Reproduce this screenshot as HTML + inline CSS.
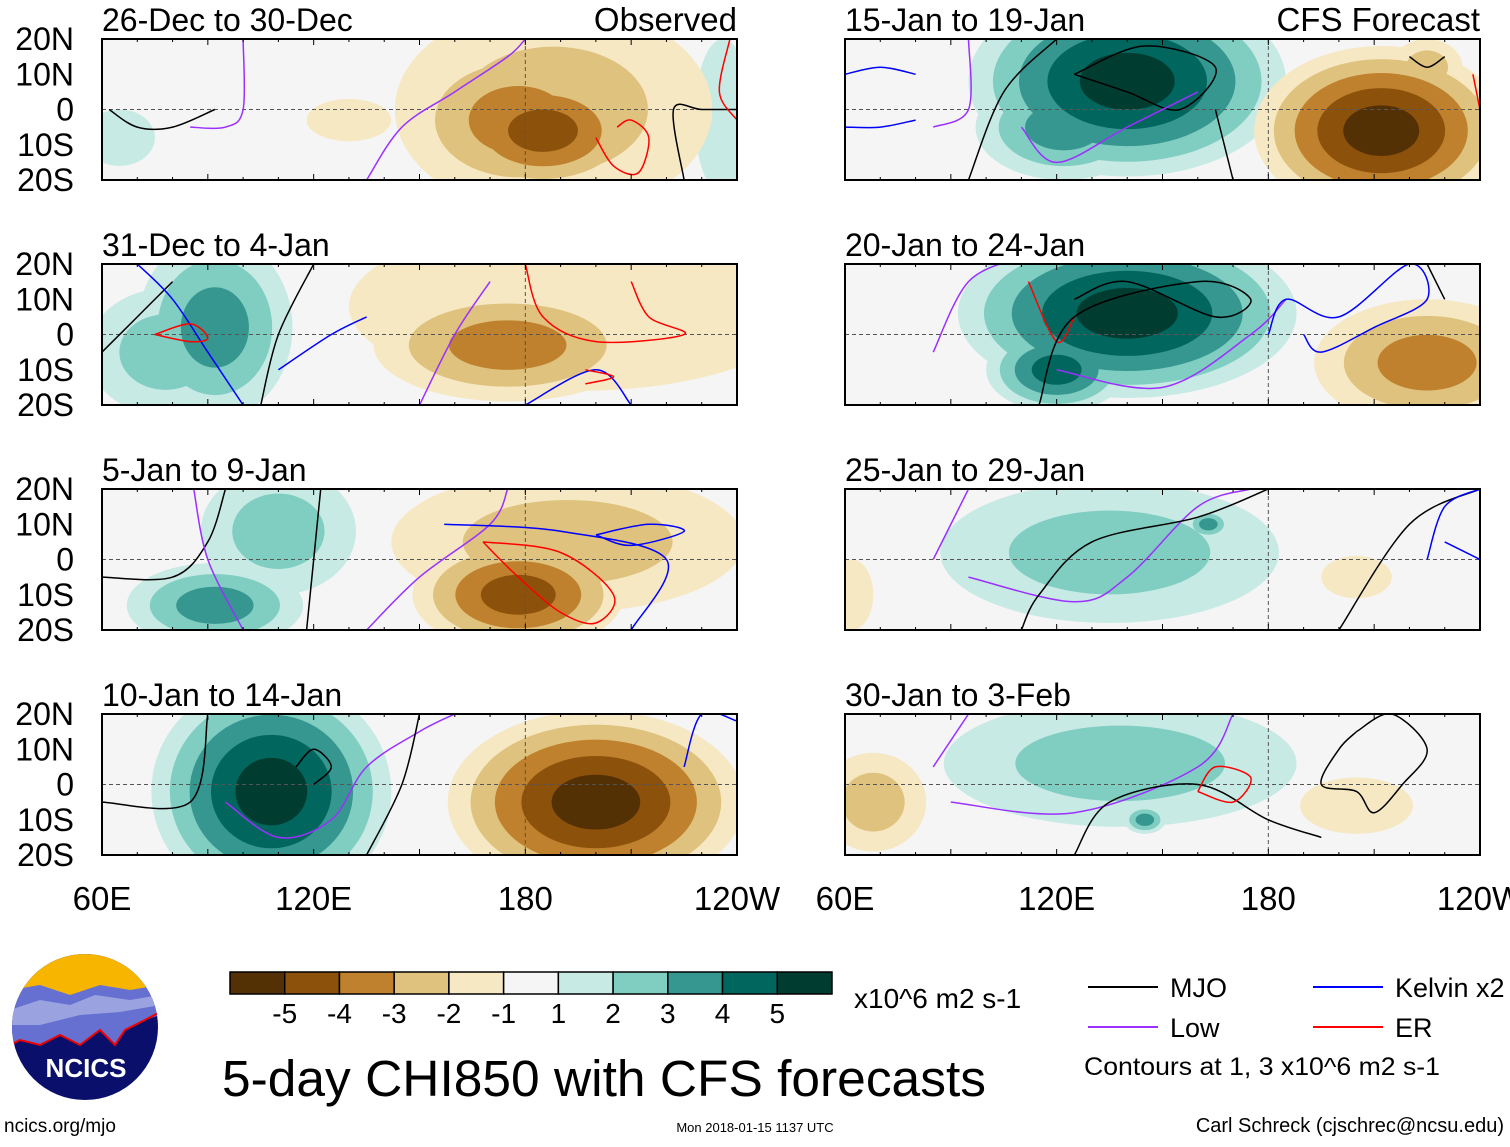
<!DOCTYPE html>
<html><head><meta charset="utf-8"><style>
html,body{margin:0;padding:0;background:#fff;}
body{width:1510px;height:1142px;overflow:hidden;font-family:"Liberation Sans",sans-serif;}
</style></head><body>
<svg id="chart" width="1510" height="1142" viewBox="0 0 1510 1142" xmlns="http://www.w3.org/2000/svg" font-family="Liberation Sans, sans-serif">
</svg>
<script>
// ---- data ----
const panelTitles = ["26-Dec to 30-Dec","31-Dec to 4-Jan","5-Jan to 9-Jan","10-Jan to 14-Jan","15-Jan to 19-Jan","20-Jan to 24-Jan","25-Jan to 29-Jan","30-Jan to 3-Feb"];
const latTicks = ["20N","10N","0","10S","20S"];
const lonTicks = ["60E","120E","180","120W"];
const lonTickValues = [60,120,180,240];
const levelLabels = ["-5","-4","-3","-2","-1","1","2","3","4","5"];
// anomaly blobs: [lonCenter, latCenter, peakValue, lonRadius, latRadius]
const blobs0 = [[65,-8,1,10,8],[236,-2,1,8,22],[130,-3,-1,12,6],[188,0,-2,45,30],[185,-6,-4,28,17],[178,-3,-3,32,22]];
const blobs1 = [[92,2,3,22,26],[78,-5,2,22,18],[175,-3,-3,38,16],[195,8,-1,65,24],[215,15,-1,15,8]];
const blobs2 = [[110,8,2,22,18],[92,-13,3,25,12],[178,-10,-4,30,16],[192,5,-2,50,20]];
const blobs3 = [[108,-2,5,34,32],[200,-5,-5,42,26]];
const blobs4 = [[140,8,5,45,27],[122,-5,3,25,15],[212,-6,-5,36,24],[225,12,-2,10,8]];
const blobs5 = [[140,6,5,48,24],[120,-10,4,20,12],[225,-8,-3,32,18]];
const blobs6 = [[135,2,2,48,20],[163,10,3,6,4],[62,-10,-1,6,10],[205,-5,-1,10,6]];
const blobs7 = [[138,6,2,50,18],[145,-10,3,6,4],[68,-5,-2,15,14],[205,-6,-1,16,8]];
const blobSets = [blobs0,blobs1,blobs2,blobs3,blobs4,blobs5,blobs6,blobs7];
// contour lines: [type, [lon,lat,...]]
const lines0 = [["mjo",[62,0,70,-5,80,-5,92,0]],["low",[85,-5,95,-5,100,0,100,20]],["low",[135,-20,145,-5,160,5,175,15,180,20]],["er",[206,-5,210,-3,215,-8,212,-18,205,-16,200,-8]],["mjo",[225,-20,222,0,230,0,240,0]],["er",[238,20,235,5,240,-3]]];
const lines1 = [["mjo",[60,-5,70,5,80,15]],["kelvin",[70,20,80,10,90,-5,100,-20]],["er",[75,0,85,-2,90,-1,85,3,75,0]],["mjo",[120,20,110,0,105,-20]],["kelvin",[135,5,125,0,110,-10]],["low",[150,-20,160,0,170,15]],["er",[180,20,185,5,200,-2,225,0,215,5,210,15]],["kelvin",[180,-20,200,-10,210,-20]],["er",[197,-10,205,-12,197,-14]]];
const lines2 = [["mjo",[60,-5,80,-5,90,5,95,20]],["low",[86,20,90,0,100,-20]],["mjo",[122,20,120,0,118,-20]],["low",[135,-20,150,-5,170,10,175,20]],["kelvin",[157,10,190,8,220,0,210,-20]],["er",[168,5,190,2,205,-10,200,-18,190,-15,178,-5,168,5]],["kelvin",[200,7,215,10,225,8,210,4,200,7]]];
const lines3 = [["mjo",[60,-5,85,-5,90,20]],["low",[95,-5,110,-15,125,-10,135,5,150,15,160,20]],["mjo",[150,20,145,0,135,-20]],["mjo",[115,5,120,10,125,5,120,0]],["kelvin",[225,5,230,20,240,18]]];
const lines4 = [["kelvin",[65,20,80,22]],["kelvin",[60,10,70,12,80,10]],["kelvin",[60,-5,70,-5,80,-3]],["low",[85,-5,95,0,95,20]],["mjo",[95,-20,105,5,120,20]],["mjo",[125,10,145,18,165,12,155,0,140,5,125,10]],["low",[110,-5,120,-15,140,-5,160,5]],["mjo",[165,0,170,-20]],["er",[238,10,240,0]],["mjo",[220,15,225,12,230,15]]];
const lines5 = [["low",[85,-5,95,15,110,22]],["kelvin",[110,20,130,20]],["er",[112,15,120,-2,125,5]],["mjo",[115,-20,125,5,160,15,175,10,165,5,140,15,125,10]],["low",[120,-10,150,-15,175,0,185,10]],["kelvin",[180,0,185,10,200,5,220,20,225,10,210,2,195,-5,190,0]],["mjo",[225,20,230,10]]];
const lines6 = [["low",[85,0,95,20]],["low",[95,-5,125,-12,140,-5,160,15,175,20]],["mjo",[110,-20,115,-10,130,5,160,12,180,20]],["mjo",[200,-20,220,10,240,20]],["kelvin",[225,0,230,15,240,20]],["kelvin",[230,5,240,0]]];
const lines7 = [["low",[85,5,95,20]],["low",[90,-5,125,-8,160,5,170,20]],["mjo",[125,-20,135,-5,160,0,180,-10,195,-15]],["er",[160,-2,165,5,175,2,170,-5,160,-2]],["mjo",[205,15,215,20,225,10,218,0,210,-8,205,-2,195,0,200,10,205,15]]];
const lineSets = [lines0,lines1,lines2,lines3,lines4,lines5,lines6,lines7];

// ---- layout ----
const svg = document.getElementById('chart');
const NS = "http://www.w3.org/2000/svg";
const posColors = ["#c7eae5","#80cdc1","#35978f","#01665e","#003c30"];
const negColors = ["#f6e8c3","#dfc27d","#bf812d","#8c510a","#543005"];
const lineColors = {mjo:"#000",low:"#9b30ff",kelvin:"#0000ff",er:"#ff0000"};
const colX = [102,845], rowY = [39,264,489,714], PW = 635, PH = 141;
function mk(tag, attrs, parent){const e=document.createElementNS(NS,tag);for(const k in attrs)e.setAttribute(k,attrs[k]);(parent||svg).appendChild(e);return e;}
function xScale(x0,lon){return x0+(lon-60)/180*PW;}
function yScale(y0,lat){return y0+(20-lat)/40*PH;}
function smooth(pts){
  let d="M"+pts[0][0].toFixed(1)+","+pts[0][1].toFixed(1);
  for(let i=0;i<pts.length-1;i++){
    const p0=pts[Math.max(0,i-1)],p1=pts[i],p2=pts[i+1],p3=pts[Math.min(pts.length-1,i+2)];
    const c1=[p1[0]+(p2[0]-p0[0])/6,p1[1]+(p2[1]-p0[1])/6],c2=[p2[0]-(p3[0]-p1[0])/6,p2[1]-(p3[1]-p1[1])/6];
    d+=" C"+c1.map(v=>v.toFixed(1))+" "+c2.map(v=>v.toFixed(1))+" "+p2.map(v=>v.toFixed(1));
  }
  return d;
}

for(let p=0;p<8;p++){
  const x0 = colX[p<4?0:1], y0 = rowY[p%4];
  const g = mk('g',{});
  
  
  const cp = mk('clipPath',{id:'clip'+p},g);
  mk('rect',{x:x0,y:y0,width:PW,height:PH},cp);
  mk('rect',{x:x0,y:y0,width:PW,height:PH,fill:"#f5f5f5"},g);
  const fills = mk('g',{'clip-path':'url(#clip'+p+')'},g);
  const blobs = blobSets[p];
  for(let l=1;l<=5;l++){
    blobs.forEach(b=>{
      const pk=Math.abs(b[2]); if(l>pk) return;
      const s=Math.pow((pk-l+1)/pk,0.75);
      const e=mk('ellipse',{cx:xScale(x0,b[0]),cy:yScale(y0,b[1]),rx:b[3]*s/180*PW,ry:b[4]*s/40*PH,fill:(b[2]>0?posColors:negColors)[l-1]},fills);
      
      
    });
  }
  // grid
  mk('line',{x1:x0,x2:x0+PW,y1:yScale(y0,0),y2:yScale(y0,0),stroke:"#555",'stroke-dasharray':"4,3",'stroke-width':1},g);
  mk('line',{x1:xScale(x0,180),x2:xScale(x0,180),y1:y0,y2:y0+PH,stroke:"#555",'stroke-dasharray':"4,3",'stroke-width':1},g);
  // lines
  lineSets[p].forEach(ln=>{
    const pts=[];for(let i=0;i<ln[1].length;i+=2)pts.push([xScale(x0,ln[1][i]),yScale(y0,ln[1][i+1])]);
    const pl=mk('path',{d:smooth(pts),fill:"none",stroke:lineColors[ln[0]],'stroke-width':1.5,'clip-path':'url(#clip'+p+')'},g);
    
    
  });
  // frame & ticks
  mk('rect',{x:x0,y:y0,width:PW,height:PH,fill:"none",stroke:"#000",'stroke-width':2},g);
  for(let lon=60;lon<=240;lon+=10){
    const x=xScale(x0,lon), len=(lon%30==0)?6:3;
    mk('line',{x1:x,x2:x,y1:y0,y2:y0+len,stroke:"#000"},g);
    mk('line',{x1:x,x2:x,y1:y0+PH,y2:y0+PH-len,stroke:"#000"},g);
  }
  const t=mk('text',{x:x0,y:y0-8,'font-size':32,textLength:0},g); t.removeAttribute('textLength'); t.textContent=panelTitles[p];
   
  if(p==0){const o=mk('text',{x:x0+PW,y:y0-8,'font-size':33,'text-anchor':'end'},g);o.textContent="Observed";}
  if(p==4){const o=mk('text',{x:x0+PW,y:y0-8,'font-size':33,'text-anchor':'end'},g);o.textContent="CFS Forecast";}
  if(p<4){
    latTicks.forEach((lt,i)=>{const tt=mk('text',{x:74,y:y0+i*PH/4+11,'font-size':32,'text-anchor':'end'},g);tt.textContent=lt;});
  }
}
// x-axis labels
[0,1].forEach(c=>{
  lonTicks.forEach((lt,i)=>{
    const tt=mk('text',{x:xScale(colX[c],lonTickValues[i]),y:910,'font-size':33,'text-anchor':'middle'});
    tt.textContent=lt;
    
    
  });
});
// colorbar
const cbColors = negColors.slice().reverse().concat(["#f5f5f5"]).concat(posColors);
const cbX=230, cbW=602/11;
const cb=mk('g',{});
cbColors.forEach((c,i)=>mk('rect',{x:cbX+i*cbW,y:972,width:cbW,height:22,fill:c,stroke:"#000",'stroke-width':1.5},cb));
levelLabels.forEach((l,i)=>{const tt=mk('text',{x:cbX+(i+1)*cbW,y:1023,'font-size':28,'text-anchor':'middle'},cb);tt.textContent=l;});
const un=mk('text',{x:854,y:1008,'font-size':28});un.textContent="x10^6 m2 s-1";
const ttl=mk('text',{x:222,y:1096,'font-size':51,textLength:764,lengthAdjust:"spacingAndGlyphs"});ttl.textContent="5-day CHI850 with CFS forecasts";
// legend
const leg=[["MJO","mjo",1088,987],["Low","low",1088,1027],["Kelvin x2","kelvin",1313,987],["ER","er",1313,1027]];
leg.forEach(l=>{const g=mk('g',{});
  mk('line',{x1:l[2],x2:l[2]+70,y1:l[3],y2:l[3],stroke:lineColors[l[1]],'stroke-width':2},g);
  const tt=mk('text',{x:l[2]+82,y:l[3]+10,'font-size':27},g);tt.textContent=l[0];});
const cn=mk('text',{x:1084,y:1075,'font-size':25,textLength:356,lengthAdjust:"spacingAndGlyphs"});cn.textContent="Contours at 1, 3 x10^6 m2 s-1";
const t1=mk('text',{x:4,y:1132,'font-size':19});t1.textContent="ncics.org/mjo";
const t2=mk('text',{x:755,y:1132,'font-size':13,'text-anchor':'middle'});t2.textContent="Mon 2018-01-15 1137 UTC";
const t3=mk('text',{x:1504,y:1132,'font-size':20,'text-anchor':'end'});t3.textContent="Carl Schreck (cjschrec@ncsu.edu)";
// logo
const lg=mk('g',{});
const lcp=mk('clipPath',{id:'logoclip'},lg);
mk('circle',{cx:85,cy:1027,r:73},lcp);
const lc=mk('g',{'clip-path':'url(#logoclip)'},lg);
mk('rect',{x:10,y:950,width:150,height:160,fill:"#0a0f6b"},lc);
mk('rect',{x:10,y:950,width:150,height:45,fill:"#f7b500"},lc);
mk('path',{d:"M10,990 L40,985 L70,995 L100,985 L130,990 L160,985 L160,1015 L145,1020 L125,1030 L115,1045 L100,1030 L80,1045 L60,1035 L40,1045 L20,1040 L10,1045 Z",fill:"#6670d0"},lc);
mk('path',{d:"M10,1010 L40,1000 L70,1005 L95,995 L130,1000 L160,995 L160,1005 L120,1012 L80,1015 L40,1025 L10,1025 Z",fill:"#9aa3e0"},lc);
mk('path',{d:"M10,1045 L20,1040 L40,1045 L60,1035 L80,1045 L100,1030 L115,1045 L125,1030 L145,1020 L160,1012",fill:"none",stroke:"#e00",'stroke-width':2},lc);
const lt=mk('text',{x:86,y:1077,'font-size':26,'font-weight':'bold',fill:"#fff",'text-anchor':'middle'},lg);lt.textContent="NCICS";
</script>
</body></html>
